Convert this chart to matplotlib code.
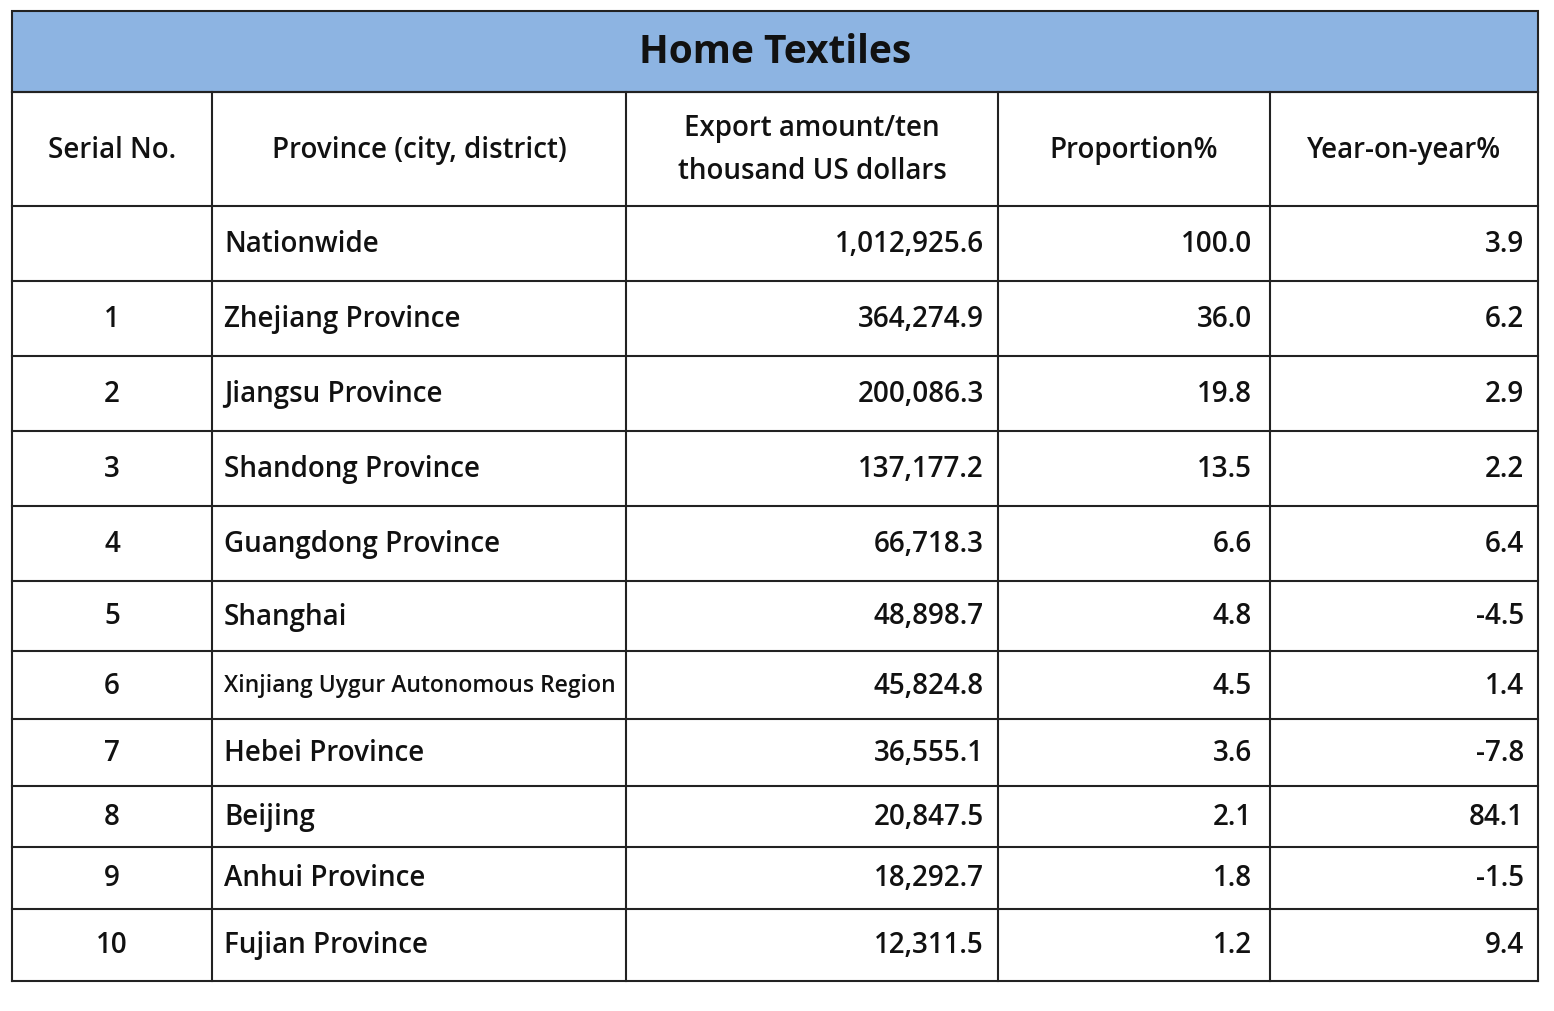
import matplotlib
matplotlib.use("Agg")
import matplotlib.pyplot as plt

title = "Home Textiles"
headers = ["Serial No.", "Province (city, district)", "Export amount/ten\nthousand US dollars", "Proportion%", "Year-on-year%"]
serials = ["", "1", "2", "3", "4", "5", "6", "7", "8", "9", "10"]
provinces = ["Nationwide", "Zhejiang Province", "Jiangsu Province", "Shandong Province", "Guangdong Province",
             "Shanghai", "Xinjiang Uygur Autonomous Region", "Hebei Province", "Beijing", "Anhui Province", "Fujian Province"]
export_amount = [1012925.6, 364274.9, 200086.3, 137177.2, 66718.3, 48898.7, 45824.8, 36555.1, 20847.5, 18292.7, 12311.5]
proportion = [100.0, 36.0, 19.8, 13.5, 6.6, 4.8, 4.5, 3.6, 2.1, 1.8, 1.2]
yoy = [3.9, 6.2, 2.9, 2.2, 6.4, -4.5, 1.4, -7.8, 84.1, -1.5, 9.4]

W, H = 1554, 1012
fig = plt.figure(figsize=(W/100, H/100), dpi=100)
ax = fig.add_axes([0, 0, 1, 1])
ax.set_xlim(0, W); ax.set_ylim(H, 0); ax.axis("off")

xs = [12, 212, 626, 998, 1270, 1538]
ys = [93, 207, 282, 357, 432, 507, 582, 652, 720, 787, 848, 910, 982]
top = 12
fam = ["Open Sans", "DejaVu Sans"]
fs = 20

ax.add_patch(plt.Rectangle((xs[0], top), xs[-1]-xs[0], ys[0]-top, facecolor="#8DB4E2", edgecolor="#222222", lw=1.5))
ax.text((xs[0]+xs[-1])/2, (top+ys[0])/2, title, ha="center", va="center", fontsize=28, fontweight="bold", family=fam, color="#111111")

for y in ys:
    ax.plot([xs[0], xs[-1]], [y, y], color="#222222", lw=1.5)
for x in xs:
    ax.plot([x, x], [ys[0], ys[-1]], color="#222222", lw=1.5)

hy = (ys[0]+ys[1])/2
for i, h in enumerate(headers):
    ax.text((xs[i]+xs[i+1])/2, hy, h, ha="center", va="center", fontsize=fs, fontweight="semibold",
            family=fam, linespacing=1.6, color="#111111")

for r in range(len(provinces)):
    cy = (ys[r+1]+ys[r+2])/2
    kw = dict(va="center", fontweight="semibold", family=fam, color="#111111")
    ax.text((xs[0]+xs[1])/2, cy, serials[r], ha="center", fontsize=fs, **kw)
    pfs = 16.5 if len(provinces[r]) > 25 else fs
    ax.text(xs[1]+12, cy, provinces[r], ha="left", fontsize=pfs, **kw)
    ax.text(xs[3]-14, cy, f"{export_amount[r]:,.1f}", ha="right", fontsize=fs, **kw)
    ax.text(xs[4]-18, cy, f"{proportion[r]:.1f}", ha="right", fontsize=fs, **kw)
    ax.text(xs[5]-14, cy, f"{yoy[r]:.1f}", ha="right", fontsize=fs, **kw)

fig.savefig("out.png", dpi=100, facecolor="white")
